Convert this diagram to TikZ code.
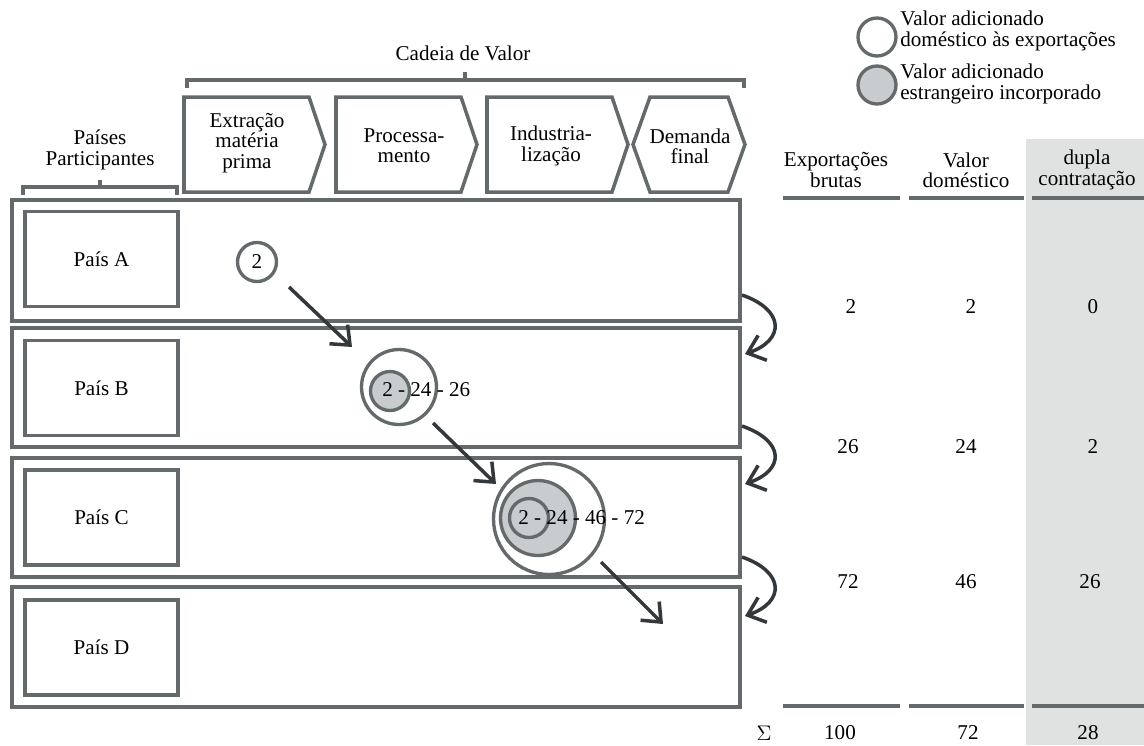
\documentclass[tikz,border=0pt]{standalone}
\usepackage{fontspec}
\setmainfont{Liberation Serif}
\usetikzlibrary{arrows.meta}
\definecolor{linegray}{RGB}{100,106,108}
\definecolor{fillgray}{RGB}{200,204,207}
\definecolor{bandgray}{RGB}{224,225,225}
\definecolor{arrowgray}{RGB}{50,56,60}
\tikzset{
	rowbox/.style={draw=linegray, line width=2pt, minimum width=14.56cm}, % country rows
	countrybox/.style={draw=linegray, line width=2pt, minimum width=3.06cm, minimum height=1.9cm},
	stage/.style={draw=linegray, line width=2pt, line join=miter},
	brk/.style={draw=linegray, line width=2pt},
	va/.style={circle, draw=linegray, line width=1.9pt, inner sep=0pt}, % value added circles
	arr/.style={draw=arrowgray, line width=2pt, -{Straight Barb[length=9pt,width=15pt,line width=2pt]}},
	lbl/.style={align=center, inner sep=0pt},
	num/.style={inner sep=0pt}
}
\begin{document}
\begin{tikzpicture}[x=0.02cm, y=-0.02cm, font=\fontsize{12}{11.5}\selectfont]
	\useasboundingbox (0,0) rectangle (1144,745);
	% Shaded column
	\fill[bandgray] (1026,139) rectangle (1144,745);
	% Value chain
	\draw[brk] (187,88) |- (744,80) -- (744,88);
	\draw[brk] (465,80) -- (465,72);
	\node[lbl] (chain) at (463,53) {Cadeia de Valor};
	\draw[stage] (184,97) -- (309,97) -- (325,144.5) -- (309,192) -- (184,192) -- cycle;
	\draw[stage] (336,97) -- (461,97) -- (477,144.5) -- (461,192) -- (336,192) -- cycle;
	\draw[stage] (487,97) -- (612,97) -- (628,144.5) -- (612,192) -- (487,192) -- cycle;
	\draw[stage] (650,97) -- (728,97) -- (745,144.5) -- (728,192) -- (650,192) -- (633,144.5) -- cycle;
	\node[lbl] (extr) at (247,143) {Extração\\matéria\\prima};
	\node[lbl] (proc) at (404,146) {Processa-\\mento};
	\node[lbl] (indu) at (551,146) {Industria-\\lização};
	\node[lbl] (dema) at (690,146) {Demanda\\final};
	% Countries
	\draw[brk] (23,195) |- (177,187) -- (177,195);
	\draw[brk] (100,187) -- (100,180);
	\node[lbl] (paises) at (100,150) {Países\\Participantes};
	\node[rowbox, minimum height=2.42cm] (rowA) at (376,260.5) {};
	\node[rowbox, minimum height=2.38cm] (rowB) at (376,387.5) {};
	\node[rowbox, minimum height=2.38cm] (rowC) at (376,517.5) {};
	\node[rowbox, minimum height=2.40cm] (rowD) at (376,647) {};
	\node[countrybox] (paisA) at (101.5,259) {País A};
	\node[countrybox] (paisB) at (101.5,388) {País B};
	\node[countrybox] (paisC) at (101.5,517.5) {País C};
	\node[countrybox] (paisD) at (101.5,647.5) {País D};
	% Circles
	\node[va, minimum size=0.78cm] (cA) at (257,262) {2};
	\node[va, minimum size=1.5cm] (cBout) at (399,387) {};
	\node[va, fill=fillgray, minimum size=0.78cm] (cBin) at (390,391) {};
	\node[num, anchor=west] (tB) at (382,390) {2 - 24 - 26};
	\node[va, minimum size=2.22cm] (cCout) at (549,519) {};
	\node[va, fill=fillgray, minimum size=1.5cm] (cCmid) at (538,518) {};
	\node[va, minimum size=0.78cm] (cCin) at (529,518) {};
	\node[num, anchor=west] (tC) at (518,518) {2 - 24 - 46 - 72};
	% Arrows
	\coordinate (a1s) at (289,287);
	\coordinate (a1e) at (352,347);
	\coordinate (a2s) at (433,423);
	\coordinate (a2e) at (496,484);
	\coordinate (a3s) at (601,562);
	\coordinate (a3e) at (663,624);
	\draw[arr] (a1s) -- (a1e);
	\draw[arr] (a2s) -- (a2e);
	\draw[arr] (a3s) -- (a3e);
	\coordinate (ab1) at (742,295);
	\coordinate (ab2) at (745,354);
	\coordinate (bc1) at (742,426);
	\coordinate (bc2) at (745,484);
	\coordinate (cd1) at (742,557);
	\coordinate (cd2) at (745,616);
	\draw[arr] (ab1) .. controls (785,310) and (785,340) .. (ab2);
	\draw[arr] (bc1) .. controls (785,441) and (785,470) .. (bc2);
	\draw[arr] (cd1) .. controls (785,572) and (785,602) .. (cd2);
	% Legend
	\node[va, minimum size=0.76cm] (legdom) at (877,37) {};
	\node[lbl, align=left, anchor=west] (legdomt) at (900,31) {Valor adicionado\\doméstico às exportações};
	\node[va, fill=fillgray, minimum size=0.76cm] (legfor) at (877,85) {};
	\node[lbl, align=left, anchor=west] (legfort) at (900,84) {Valor adicionado\\estrangeiro incorporado};
	% Table
	\node[lbl] (hExp) at (836,170) {Exportações\\brutas};
	\node[lbl] (hDom) at (966,170) {Valor\\doméstico};
	\node[lbl] (hDup) at (1087,170) {dupla\\contratação};
	\draw[brk, line width=2.4pt] (783,198) -- (900,198);
	\draw[brk, line width=2.4pt] (909,198) -- (1024,198);
	\draw[brk, line width=2.4pt] (1032,198) -- (1144,198);
	\node[num] (e1) at (851,307) {2};
	\node[num] (d1) at (971,307) {2};
	\node[num] (u1) at (1093,307) {0};
	\node[num] (e2) at (848,447) {26};
	\node[num] (d2) at (966,447) {24};
	\node[num] (u2) at (1093,447) {2};
	\node[num] (e3) at (848,582) {72};
	\node[num] (d3) at (966,582) {46};
	\node[num] (u3) at (1090,582) {26};
	\draw[brk, line width=2.4pt] (783,706) -- (900,706);
	\draw[brk, line width=2.4pt] (909,706) -- (1024,706);
	\draw[brk, line width=2.4pt] (1032,706) -- (1144,706);
	\node[num] (sigma) at (764,733) {$\Sigma$};
	\node[num] (eT) at (840,733) {100};
	\node[num] (dT) at (968,733) {72};
	\node[num] (uT) at (1088,733) {28};
\end{tikzpicture}
\end{document}
